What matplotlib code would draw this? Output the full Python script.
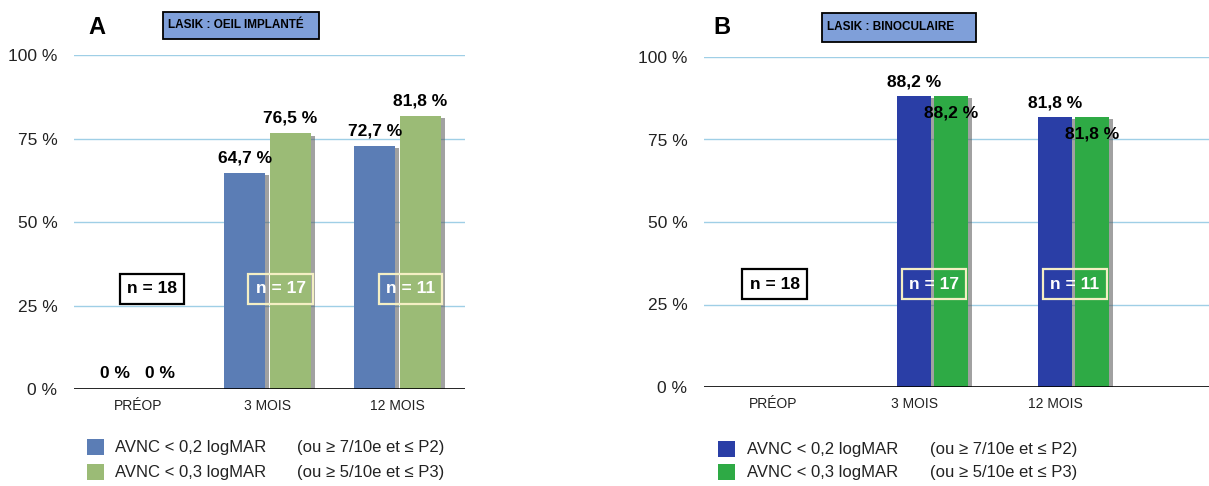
import matplotlib
matplotlib.use('Agg')
import matplotlib.pyplot as plt
import matplotlib.patheffects as pe
from matplotlib.patches import Rectangle
import numpy as np

plt.rcParams['font.family'] = ['Liberation Sans', 'DejaVu Sans']

categories = ['PRÉOP', '3 MOIS', '12 MOIS']
n_counts = [18, 17, 11]
series_names = ['AVNC < 0,2 logMAR', 'AVNC < 0,3 logMAR']
series_notes = ['(ou ≥ 7/10e et ≤ P2)', '(ou ≥ 5/10e et ≤ P3)']
yticks = [0, 25, 50, 75, 100]

# panel A : oeil implanté
implant_02 = [0, 64.7, 72.7]
implant_03 = [0, 76.5, 81.8]
# panel B : binoculaire
bino_02 = [0, 88.2, 81.8]
bino_03 = [0, 88.2, 81.8]

W, H = 1209, 486


def fx(px):
    return px / W


def fy(py):
    return 1 - py / H


def pct(v):
    if v == int(v):
        return '%d %%' % v
    return ('%.1f %%' % v).replace('.', ',')


def panel(rect, vals, colors, offsets, width, xlim, label_off, show_zero,
          nbox_pos, letter, letter_xy, title, title_box, legend_x, legend_y):
    ax = fig.add_axes(rect)
    x = np.arange(len(categories))
    shadow = [pe.SimplePatchShadow(offset=(3, -1.5), shadow_rgbFace='#555555', alpha=0.55), pe.Normal()]
    for k, (v, c) in enumerate(zip(vals, colors)):
        bars = ax.bar(x + offsets[k], v, width, color=c, zorder=3)
        for b in bars:
            b.set_path_effects(shadow)
        for xi, vi in zip(x, v):
            if vi == 0 and not show_zero:
                continue
            ax.annotate(pct(vi), (xi + offsets[k], vi), xytext=(0, label_off[k]),
                        textcoords='offset points', ha='center', va='center',
                        fontsize=12.5, fontweight='bold', zorder=5)
    ax.set_xlim(*xlim)
    ax.set_ylim(0, 100)
    ax.set_yticks(yticks)
    ax.set_yticklabels([pct(t) for t in yticks])
    for t in yticks[1:]:
        ax.axhline(t, color='#9fcfe6', lw=1.0, zorder=1)
    ax.axhline(0, color='black', lw=1.2, zorder=4)
    for s in ax.spines.values():
        s.set_visible(False)
    ax.tick_params(axis='y', length=0, pad=12, labelsize=12.5, labelcolor='#222222')
    ax.set_xticks(x)
    ax.set_xticklabels(categories, fontsize=10, color='#222222')
    ax.tick_params(axis='x', length=0, pad=7)

    # n = boxes
    for i, (nx, ny) in enumerate(nbox_pos):
        if i == 0:
            tc, ec, fc = 'black', 'black', 'white'
        else:
            tc, ec, fc = 'white', '#f4efc4', 'none'
        ax.text(nx, ny, 'n = %d' % n_counts[i], ha='center', va='center',
                fontsize=12.5, fontweight='bold', color=tc, zorder=6,
                bbox=dict(boxstyle='square,pad=0.42', fc=fc, ec=ec, lw=1.6))

    fig.text(fx(letter_xy[0]), fy(letter_xy[1]), letter, fontsize=17,
             fontweight='bold', ha='center', va='center')
    bx0, by0, bx1, by1 = title_box
    fig.patches.append(Rectangle((fx(bx0), fy(by1)), fx(bx1 - bx0), (by1 - by0) / H,
                                 transform=fig.transFigure, fc='#7f9fd9',
                                 ec='black', lw=1.3))
    fig.text(fx(bx0 + 5), fy((by0 + by1) / 2), title, fontsize=8.5,
             fontweight='bold', ha='left', va='center')

    # legend
    for k in range(len(series_names)):
        yy = legend_y[k]
        fig.patches.append(Rectangle((fx(legend_x[0]), fy(yy + 8)), fx(17), 16 / H,
                                     transform=fig.transFigure, fc=colors[k], ec='none'))
        fig.text(fx(legend_x[1]), fy(yy), series_names[k], fontsize=12,
                 ha='left', va='center', color='#222222')
        fig.text(fx(legend_x[2]), fy(yy), series_notes[k], fontsize=12,
                 ha='left', va='center', color='#222222')
    return ax


fig = plt.figure(figsize=(W / 100, H / 100), dpi=100)

panel([fx(74), fy(389), fx(465 - 74), (389 - 55) / H],
      [implant_02, implant_03], ['#5b7db5', '#9bbb76'],
      [-0.175, 0.175], 0.315, (-0.49, 2.52), [11, 11], True,
      [(0.11, 30), (1.10, 30), (2.10, 30)],
      'A', (97, 27), 'LASIK : OEIL IMPLANTÉ', (163, 12, 319, 39),
      (87, 115, 297), (447, 472))

panel([fx(704), fy(387), 1 - fx(704), (387 - 57) / H],
      [bino_02, bino_03], ['#2a3ea6', '#2eaa45'],
      [0.0, 0.262], 0.24, (-0.49, 3.09), [10, -12.5], False,
      [(0.01, 31.2), (1.14, 31.2), (2.14, 31.2)],
      'B', (722, 28), 'LASIK : BINOCULAIRE', (822, 13, 976, 42),
      (718, 747, 930), (449, 472))

fig.savefig('out.png', dpi=100)
